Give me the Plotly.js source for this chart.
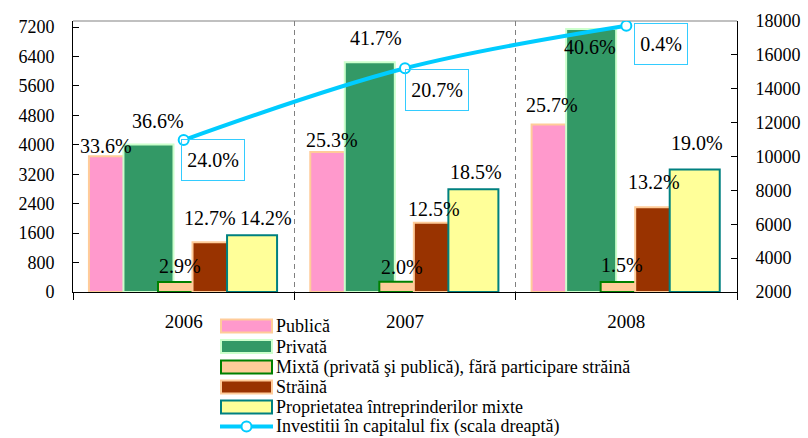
<!DOCTYPE html>
<html>
<head>
<meta charset="utf-8">
<script src="https://cdn.plot.ly/plotly-3.0.1.min.js"></script>
<style>html,body{margin:0;padding:0;background:#fff;}#chart{width:808px;height:438px;}</style>
</head>
<body>
<div id="chart"></div>
<script>
// ---------------- DATA ----------------
const categories = ['2006', '2007', '2008'];
const publica = [3690, 3805, 4550];
const privata = [4005, 6245, 7150];
const mixta = [275, 280, 275];
const straina = [1350, 1880, 2300];
const proprietatea = [1545, 2795, 3330];
const investitii = [10970, 15210, 17720];

const pctPublica = ['33.6%', '25.3%', '25.7%'];
const pctPrivata = ['36.6%', '41.7%', '40.6%'];
const pctMixta = ['2.9%', '2.0%', '1.5%'];
const pctStraina = ['12.7%', '12.5%', '13.2%'];
const pctProprietatea = ['14.2%', '18.5%', '19.0%'];
const pctInvestitii = ['24.0%', '20.7%', '0.4%'];

const leftTickVals = [0, 800, 1600, 2400, 3200, 4000, 4800, 5600, 6400, 7200];
const leftTickText = ['0', '800', '1600', '2400', '3200', '4000', '4800', '5600', '6400', '7200'];
const rightTickVals = [2000, 4000, 6000, 8000, 10000, 12000, 14000, 16000, 18000];
const rightTickText = ['2000', '4000', '6000', '8000', '10000', '12000', '14000', '16000', '18000'];

const names = [
  'Publică',
  'Privată',
  'Mixtă (privată şi publică), fără participare străină',
  'Străină',
  'Proprietatea întreprinderilor mixte',
  'Investitii în capitalul fix (scala dreaptă)'
];

// ---------------- STYLE ----------------
const FONT = '"Times New Roman", "Liberation Serif", serif';
const W = 808, H = 438;
const M = {l: 73, r: 71, t: 21, b: 146};
const plotW = W - M.l - M.r, plotH = H - M.t - M.b;

const barW = 0.226;
const seriesStyle = [
  {fill: '#FF99CC', line: '#FFCC99', offset: -0.428},
  {fill: '#339966', line: '#CCFFCC', offset: -0.272},
  {fill: '#FFCC99', line: '#008000', offset: -0.116},
  {fill: '#993300', line: '#FFCC99', offset: 0.040},
  {fill: '#FFFF99', line: '#008080', offset: 0.196}
];
// label shifts (px) per series, per year
const labelDX = [
  [-78, -73, -74],
  [-26, -29, -36],
  [-4, -3, -4],
  [26, 29, 28],
  [82, 71, 71]
];
const labelDY = [
  [10, 12, 20],
  [24, 24, -18],
  [16, 15, 17],
  [24, 14, 25],
  [17, 17, 26]
];
const boxW = [56, 56, 46];
const boxDX = [-3, 0, 8];
const boxDY = [1, -1, 3];
const LINE_COLOR = '#00CCFF';

const seriesValues = [publica, privata, mixta, straina, proprietatea];
const seriesPct = [pctPublica, pctPrivata, pctMixta, pctStraina, pctProprietatea];

const traces = seriesValues.map((vals, i) => ({
  type: 'bar',
  name: names[i],
  x: categories,
  y: vals,
  width: barW,
  offset: seriesStyle[i].offset,
  marker: {color: seriesStyle[i].fill, line: {color: seriesStyle[i].line, width: 2}},
  showlegend: false,
  hoverinfo: 'skip'
}));

traces.push({
  type: 'scatter',
  mode: 'lines+markers',
  name: names[5],
  x: categories,
  y: investitii,
  yaxis: 'y2',
  line: {color: LINE_COLOR, width: 4, shape: 'spline', smoothing: 1},
  marker: {symbol: 'circle', size: 10, color: '#FFFFFF', line: {color: LINE_COLOR, width: 2}},
  showlegend: false,
  hoverinfo: 'skip'
});

const annotations = [];
seriesValues.forEach((vals, i) => {
  vals.forEach((v, j) => {
    annotations.push({
      x: j, y: v, xref: 'x', yref: 'y',
      text: seriesPct[i][j], showarrow: false,
      xanchor: 'center', yanchor: 'middle',
      xshift: labelDX[i][j], yshift: labelDY[i][j],
      font: {family: FONT, size: 20, color: '#000'}
    });
  });
});
investitii.forEach((v, j) => {
  annotations.push({
    x: j, y: v, xref: 'x', yref: 'y2',
    text: pctInvestitii[j], showarrow: false,
    xanchor: 'left', yanchor: 'top',
    width: boxW[j], height: 34, align: 'center', valign: 'middle',
    xshift: boxDX[j], yshift: boxDY[j],
    borderpad: 3, bordercolor: '#33CCFF', borderwidth: 1,
    font: {family: FONT, size: 20, color: '#000'}
  });
});

// custom legend (pixel -> paper)
const px = x => (x - M.l) / plotW;
const py = y => (H - M.b - y) / plotH;
const shapes = [
  {type: 'line', xref: 'paper', yref: 'paper', x0: 0, x1: 1, y0: 1, y1: 1,
   line: {color: '#C0C0C0', width: 2}, layer: 'below'}
];
const legRows = [326, 346.5, 367, 387, 407, 426.5];
for (let i = 0; i < 5; i++) {
  shapes.push({
    type: 'rect', xref: 'paper', yref: 'paper',
    x0: px(221), x1: px(272), y0: py(legRows[i] - 6.5), y1: py(legRows[i] + 6.5),
    fillcolor: seriesStyle[i].fill, line: {color: seriesStyle[i].line, width: 2}
  });
}
shapes.push({
  type: 'line', xref: 'paper', yref: 'paper',
  x0: px(220), x1: px(273), y0: py(legRows[5]), y1: py(legRows[5]),
  line: {color: LINE_COLOR, width: 4}
});
shapes.push({
  type: 'circle', xref: 'paper', yref: 'paper',
  x0: px(241.5), x1: px(251.5), y0: py(legRows[5] - 5), y1: py(legRows[5] + 5),
  fillcolor: '#FFFFFF', line: {color: LINE_COLOR, width: 2}
});
names.forEach((n, i) => {
  annotations.push({
    xref: 'paper', yref: 'paper', x: px(274), y: py(legRows[i]),
    xanchor: 'left', yanchor: 'middle', showarrow: false,
    text: n, font: {family: FONT, size: 18, color: '#000'}
  });
});

const layout = {
  width: W, height: H,
  margin: M,
  paper_bgcolor: '#FFFFFF', plot_bgcolor: '#FFFFFF',
  font: {family: FONT, size: 18, color: '#000'},
  barmode: 'overlay',
  showlegend: false,
  xaxis: {
    type: 'category', range: [-0.5, 2.5],
    tickson: 'boundaries', ticks: 'outside', ticklen: 7, tickcolor: '#000', tickwidth: 1,
    showline: true, linecolor: '#000', linewidth: 1,
    showgrid: true, gridcolor: '#808080', gridwidth: 1, griddash: '5px,4px',
    tickfont: {family: FONT, size: 19, color: '#000'},
    ticklabelstandoff: 12,
    fixedrange: true
  },
  yaxis: {
    range: [0, 7364],
    tickvals: leftTickVals, ticktext: leftTickText,
    ticks: 'inside', ticklen: 6, tickcolor: '#000',
    showline: true, linecolor: '#000', linewidth: 1,
    showgrid: false, zeroline: false,
    tickfont: {family: FONT, size: 18, color: '#000'},
    ticklabelstandoff: 14,
    fixedrange: true
  },
  yaxis2: {
    overlaying: 'y', side: 'right',
    range: [2000, 18000],
    tickvals: rightTickVals, ticktext: rightTickText,
    ticks: 'inside', ticklen: 6, tickcolor: '#000',
    showline: true, linecolor: '#000', linewidth: 1,
    showgrid: false, zeroline: false,
    tickfont: {family: FONT, size: 18, color: '#000'},
    ticklabelstandoff: 14,
    fixedrange: true
  },
  annotations: annotations,
  shapes: shapes
};

Plotly.newPlot('chart', traces, layout, {displayModeBar: false, staticPlot: true});
</script>
</body>
</html>
